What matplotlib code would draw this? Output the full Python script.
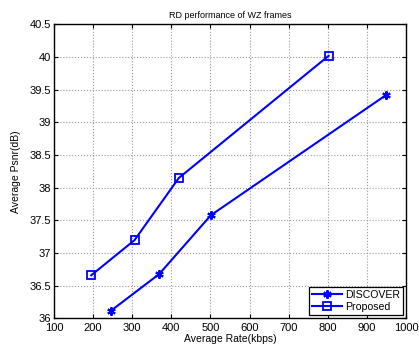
import matplotlib
matplotlib.use("Agg")
import matplotlib.pyplot as plt

plt.rcParams["font.family"] = ["Liberation Sans", "DejaVu Sans"]

# RD points
discover_rate = [246, 369, 501, 949]
discover_psnr = [36.12, 36.68, 37.58, 39.42]
proposed_rate = [195, 306, 419, 802]
proposed_psnr = [36.66, 37.20, 38.15, 40.02]

xticks = [100, 200, 300, 400, 500, 600, 700, 800, 900, 1000]
yticks = [36, 36.5, 37, 37.5, 38, 38.5, 39, 39.5, 40, 40.5]
ytick_labels = ["36", "36.5", "37", "37.5", "38", "38.5", "39", "39.5", "40", "40.5"]

fig = plt.figure(figsize=(4.19, 3.45), dpi=100)
ax = fig.add_axes([0.129, 0.077, 0.840, 0.852])

ax.plot(discover_rate, discover_psnr, color="#0000ff", lw=1.5,
        marker=(6, 2, 0), ms=6, mew=1.5, label="DISCOVER")
ax.plot(proposed_rate, proposed_psnr, color="#0000ff", lw=1.5,
        marker="s", ms=5.5, mfc="none", mew=1.3, label="Proposed")

ax.set_xlim(100, 1000)
ax.set_ylim(36, 40.5)
ax.set_xticks(xticks)
ax.set_yticks(yticks)
ax.set_yticklabels(ytick_labels)
ax.tick_params(direction="in", top=True, right=True, labelsize=8, length=3)
ax.tick_params(axis="x", pad=3.5)
ax.tick_params(axis="y", pad=2)
ax.grid(True, linestyle=":", color="#999999", linewidth=0.8)
for s in ax.spines.values():
    s.set_linewidth(1.0)

ax.set_title("RD performance of WZ frames", fontsize=6.5, pad=5)
ax.set_xlabel("Average Rate(kbps)", fontsize=7.5, labelpad=0.5)
ax.set_ylabel("Average Psnr(dB)", fontsize=7.5, labelpad=6)

leg = ax.legend(loc="lower right", fontsize=7.6, fancybox=False, framealpha=1,
                edgecolor="black", borderaxespad=0.3, handlelength=2.8,
                borderpad=0.3, labelspacing=0.2, handletextpad=0.3)
leg.get_frame().set_linewidth(0.9)

fig.savefig("out.png", dpi=100)
